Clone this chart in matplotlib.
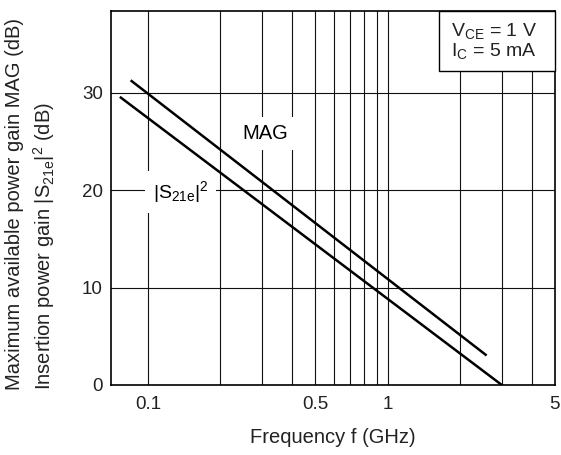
import numpy as np
import matplotlib
matplotlib.use("Agg")
import matplotlib.pyplot as plt
from matplotlib.patches import Rectangle
from matplotlib.ticker import FixedLocator, NullFormatter, NullLocator

plt.rcParams['font.family'] = ['Liberation Sans', 'DejaVu Sans']
plt.rcParams['mathtext.fontset'] = 'custom'
plt.rcParams['mathtext.rm'] = 'Liberation Sans'
plt.rcParams['mathtext.it'] = 'Liberation Sans'

# values
mag_freq = [0.0853, 2.57]
mag_gain = [31.2, 3.1]
s21_freq = [0.0769, 3.0]
s21_gain = [29.5, 0.0]

grid_freqs = [0.1, 0.2, 0.3, 0.4, 0.5, 0.6, 0.7, 0.8, 0.9, 1, 2, 3, 4]
xtick_vals = [0.1, 0.5, 1, 5]
xtick_labels = ['0.1', '0.5', '1', '5']
ytick_vals = [0, 10, 20, 30]

fig = plt.figure(figsize=(5.61, 4.55), dpi=100)
ax = fig.add_axes([0.198, 0.154, 0.791, 0.822])

ax.set_xscale('log')
ax.set_xlim(0.07, 5)
ax.set_ylim(0, 38.4)

for f in grid_freqs:
    ax.axvline(f, color='#111111', lw=0.8, zorder=1)
for g in ytick_vals[1:]:
    ax.axhline(g, color='#111111', lw=0.8, zorder=1)

ax.plot(mag_freq, mag_gain, color='black', lw=1.8, zorder=3)
ax.plot(s21_freq, s21_gain, color='black', lw=1.8, zorder=3)

ax.xaxis.set_major_locator(FixedLocator(xtick_vals))
ax.set_xticklabels(xtick_labels)
ax.xaxis.set_minor_locator(NullLocator())
ax.xaxis.set_minor_formatter(NullFormatter())
ax.set_yticks(ytick_vals)
ax.tick_params(length=0, labelsize=13.5, colors='#222222')
ax.tick_params(axis='x', pad=8)
ax.tick_params(axis='y', pad=6)

for s in ax.spines.values():
    s.set_linewidth(1.2)

ax.set_xlabel('Frequency f (GHz)', fontsize=14.5, labelpad=11,
              color='#222222')
ax.set_ylabel('Maximum available power gain MAG (dB)\n'
              r'Insertion power gain $|\mathregular{S_{21e}}|^2$ (dB)',
              fontsize=14.5, labelpad=14, linespacing=1.35,
              multialignment='left', color='#222222')
ax.yaxis.set_label_coords(-0.18, -0.013, transform=ax.transAxes)
ax.yaxis.label.set_verticalalignment('center')
ax.yaxis.label.set_horizontalalignment('left')

ax.text(0.307, 25.8, 'MAG', fontsize=14.5, ha='center', va='center',
        zorder=4, bbox=dict(facecolor='white', edgecolor='none',
                            boxstyle='square,pad=0.35'))
ax.text(0.137, 19.8, r'$|\mathregular{S_{21e}}|^2$', fontsize=14,
        ha='center', va='center', zorder=4,
        bbox=dict(facecolor='white', edgecolor='none',
                  boxstyle='square,pad=0.4'))

ax.add_patch(Rectangle((0.739, 0.840), 0.261, 0.160, transform=ax.transAxes,
                       facecolor='white', edgecolor='black', lw=1.0,
                       zorder=5, clip_on=False))
ax.text(0.862, 0.92, r'$\mathregular{V_{CE}}$ = 1 V' '\n'
        r'$\mathregular{I_C}$ = 5 mA', transform=ax.transAxes,
        fontsize=14, ha='center', va='center', linespacing=1.0, zorder=6,
        color='#222222')

fig.savefig('out.png', dpi=100)
